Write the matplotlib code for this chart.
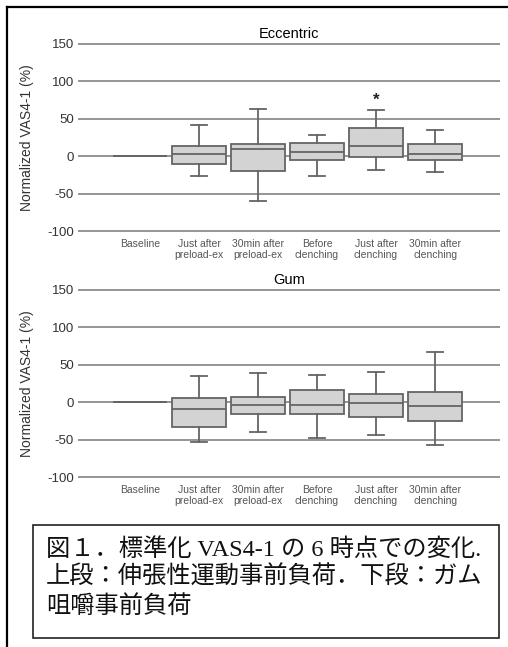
import matplotlib
matplotlib.use("Agg")
import matplotlib.pyplot as plt
from matplotlib.lines import Line2D
from matplotlib.patches import Rectangle

plt.rcParams['font.family'] = ['Liberation Sans', 'DejaVu Sans']

categories = ["Baseline", "Just after\npreload-ex", "30min after\npreload-ex",
              "Before\nclenching", "Just after\nclenching", "30min after\nclenching"]
y_ticks = [-100, -50, 0, 50, 100, 150]

# box stats: low whisker, Q1, median, Q3, high whisker
ecc_low = [0, -25.9, -60.3, -25.9, -17.9, -21.4]
ecc_q1 = [0, -9.8, -19.2, -5.4, -1.3, -5.4]
ecc_med = [0, 2.7, 9.4, 5.8, 14.3, 3.1]
ecc_q3 = [0, 13.8, 16.5, 17.9, 37.9, 16.1]
ecc_high = [0, 41.5, 62.5, 27.7, 61.2, 35.3]

gum_low = [0, -53.6, -39.3, -47.8, -43.8, -57.6]
gum_q1 = [0, -32.6, -16.1, -15.2, -19.6, -25.0]
gum_med = [0, -9.4, -3.1, -3.1, -1.3, -4.9]
gum_q3 = [0, 5.4, 7.1, 16.5, 10.7, 13.4]
gum_high = [0, 34.4, 38.8, 36.2, 40.2, 67.0]

# significance mark (category index, value)
ecc_star = (4, 75)

caption = ["図１．標準化 VAS4-1 の 6 時点での変化.",
           "上段：伸張性運動事前負荷．下段：ガム",
           "咀嚼事前負荷"]

W, H = 508, 647
fig = plt.figure(figsize=(W / 100, H / 100), dpi=100)

edge = "#656565"
face = "#d3d3d3"
grid = "#8c8c8c"


def draw_panel(ax, title, low, q1, med, q3, high):
    stats = []
    for i in range(len(categories)):
        stats.append({"whislo": low[i], "q1": q1[i], "med": med[i],
                      "q3": q3[i], "whishi": high[i], "fliers": []})
    ax.bxp(stats, positions=list(range(len(categories))), widths=0.92,
           patch_artist=True, showfliers=False,
           boxprops=dict(facecolor=face, edgecolor=edge, linewidth=1.3),
           medianprops=dict(color=edge, linewidth=1.3),
           whiskerprops=dict(color=edge, linewidth=1.3),
           capprops=dict(color=edge, linewidth=1.3),
           capwidths=0.28)
    ax.set_xlim(-1.05, 6.1)
    ax.set_ylim(-102, 152)
    ax.set_yticks(y_ticks)
    ax.set_yticklabels([str(v) for v in y_ticks], fontsize=9.5, color="#333333")
    ax.set_xticks(list(range(len(categories))))
    ax.set_xticklabels(categories, fontsize=7.5, color="#555555", linespacing=1.15)
    ax.tick_params(length=0, axis="y", pad=3)
    ax.tick_params(length=0, axis="x", pad=4.5)
    for s in ax.spines.values():
        s.set_visible(False)
    ax.set_axisbelow(True)
    ax.yaxis.grid(True, color=grid, linewidth=1.3)
    ax.set_title(title, fontsize=10.5, pad=3)
    ax.set_ylabel("Normalized VAS4-1 (%)", fontsize=10, color="#333333")
    ax.yaxis.set_label_coords(-0.104, 0.5)


ax1 = fig.add_axes([78 / W, 1 - 232.5 / H, 422 / W, 190 / H])
draw_panel(ax1, "Eccentric", ecc_low, ecc_q1, ecc_med, ecc_q3, ecc_high)
ax1.text(ecc_star[0], ecc_star[1], "*", ha="center", va="center",
         fontsize=12, fontweight="bold", color="#222222")

ax2 = fig.add_axes([78 / W, 1 - 478.5 / H, 422 / W, 190 / H])
draw_panel(ax2, "Gum", gum_low, gum_q1, gum_med, gum_q3, gum_high)

# outer frame (only top and left edges show)
fig.add_artist(Line2D([7 / W, 7 / W], [0, 1 - 7 / H], transform=fig.transFigure,
                      color="black", linewidth=1.6))
fig.add_artist(Line2D([7 / W, 1], [1 - 7 / H, 1 - 7 / H], transform=fig.transFigure,
                      color="black", linewidth=1.6))

# caption box
fig.add_artist(Rectangle((33 / W, 1 - 638 / H), (499 - 33) / W, (638 - 525) / H,
                         transform=fig.transFigure, fill=False,
                         edgecolor="#222222", linewidth=1.2))
for k, line in enumerate(caption):
    fig.text(46 / W, 1 - (549 + 28.5 * k) / H, line, ha="left", va="center",
             fontsize=17.5, color="#111111",
             family=["Liberation Serif", "Noto Sans CJK JP"])

fig.savefig("out.png", dpi=100)
